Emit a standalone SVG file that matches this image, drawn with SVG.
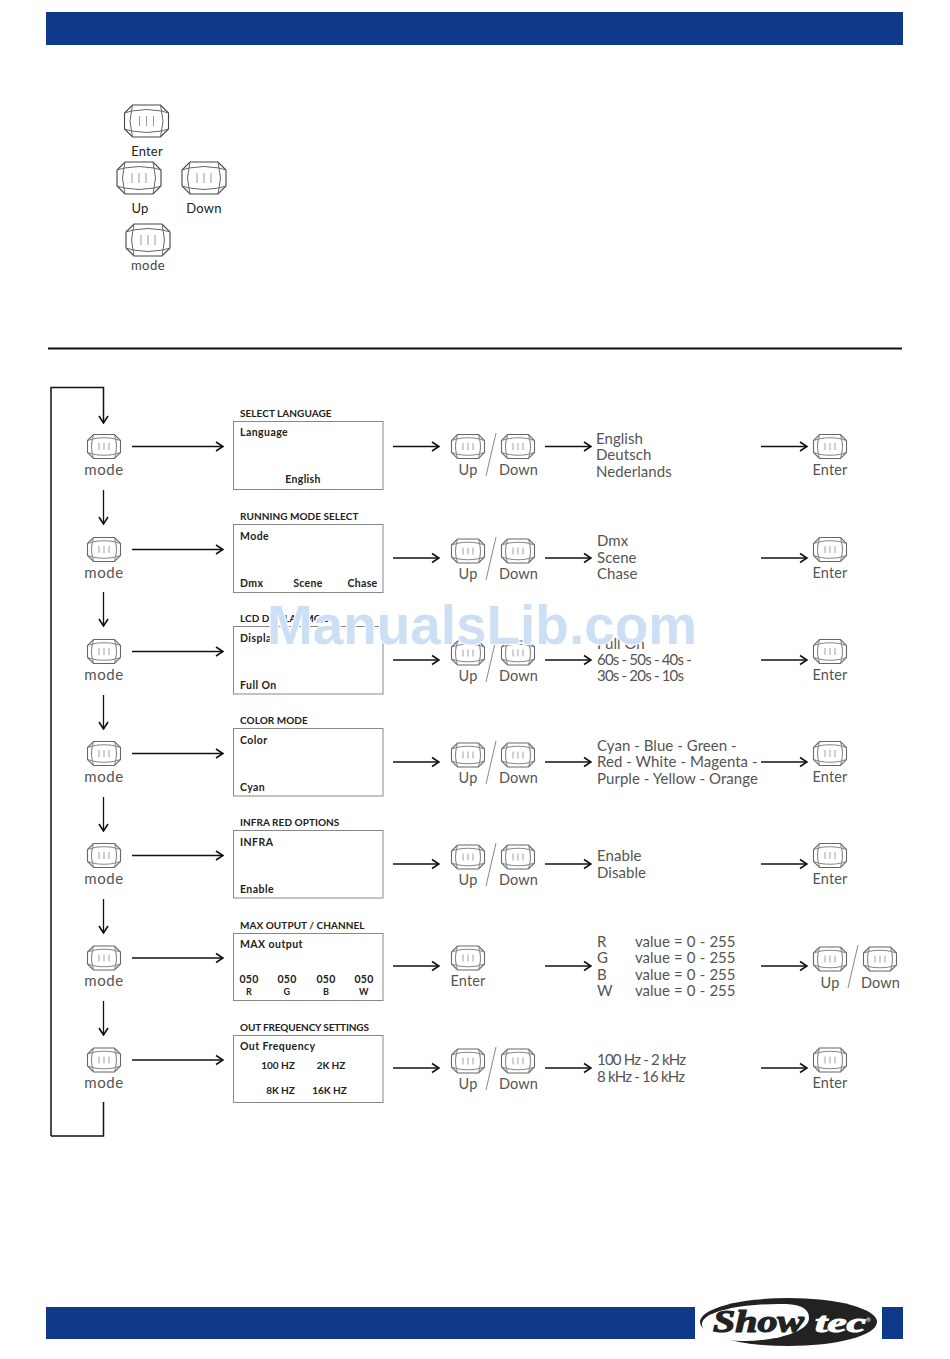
<svg xmlns="http://www.w3.org/2000/svg" width="950" height="1359" viewBox="0 0 950 1359">
<style>
text{font-family:"Lato","Liberation Sans",sans-serif;fill:#2b2b2b}
.l{font-size:14.5px;letter-spacing:.15px;text-anchor:middle;fill:#555}
.m{font-size:15px;letter-spacing:.55px;text-anchor:middle;fill:#555}
.v{font-size:15px;letter-spacing:.05px;fill:#555}
.n{letter-spacing:-.8px}
.o{letter-spacing:0;word-spacing:.3px}
.b{font-size:13px;text-anchor:middle;fill:#222;letter-spacing:.2px}
.t{font-size:10px;font-weight:700;fill:#222;letter-spacing:.05px}
.p{font-size:10.5px;font-weight:700;fill:#222;letter-spacing:.45px}
.pm{font-size:10.5px;font-weight:700;fill:#222;letter-spacing:.3px;text-anchor:middle}
.hz{font-size:10px;letter-spacing:-.05px}
.box{fill:#fff;stroke:#888;stroke-width:1}
.a{fill:none;stroke:#111;stroke-width:1.3;marker-end:url(#ah)}
.s{fill:none;stroke:#888;stroke-width:1}
.bar{fill:#0f3a8c}
.wm{font-family:"Liberation Sans",sans-serif;font-size:55px;font-weight:700;fill:#cddff5;stroke:#fff;stroke-width:2;paint-order:stroke}
</style>
<defs>
<marker id="ah" viewBox="0 0 10 12" markerWidth="10" markerHeight="12" refX="9" refY="6" orient="auto" markerUnits="userSpaceOnUse"><path d="M2 1.500L9 6L2 10.500" fill="none" stroke="#111" stroke-width="1.6"/></marker>
<g id="btn" fill="none" stroke="#666" stroke-width="1">
<path d="M-14 -16H14L22 -8V8L14 16H-14L-22 8V-8Z" stroke="#444" stroke-width="1.1"/>
<path d="M-15 -10Q0 -13 15 -10Q18 0 15 10Q0 13 -15 10Q-18 0 -15 -10Z"/>
<path d="M-14 -16L-15 -10M14 -16L15 -10M-14 16L-15 10M14 16L15 10M-22 -8L-15 -10M22 -8L15 -10M-22 8L-15 10M22 8L15 10"/>
<path d="M-7 -5V5M0 -5V5M7 -5V5" stroke="#999"/>
</g>
<g id="sbt" fill="none" stroke="#888" stroke-width="1.1">
<path d="M-10.500 -12H10.500L16.500 -6V6L10.500 12H-10.500L-16.500 6V-6Z" stroke="#666"/>
<path d="M-11.500 -7.500Q0 -10 11.500 -7.500Q13.500 0 11.500 7.500Q0 10 -11.500 7.500Q-13.500 0 -11.500 -7.500Z"/>
<path d="M-10.500 -12L-11.500 -7.500M10.500 -12L11.500 -7.500M-10.500 12L-11.500 7.500M10.500 12L11.500 7.500M-16.500 -6L-11.500 -7.500M16.500 -6L11.500 -7.500M-16.500 6L-11.500 7.500M16.500 6L11.500 7.500"/>
<path d="M-5 -3.500V3.500M0 -3.500V3.500M5 -3.500V3.500" stroke="#aaa"/>
</g>
</defs>
<g id="header"><rect class="bar" x="46" y="12" width="857" height="33"/></g>
<g id="legend">
<g id="k1"><use href="#btn" transform="translate(146.500 121)"/><text class="b" x="147" y="156">Enter</text></g>
<g id="k2"><use href="#btn" transform="translate(139 178)"/><text class="b" x="140" y="213">Up</text></g>
<g id="k3"><use href="#btn" transform="translate(204 178)"/><text class="b" x="204" y="213">Down</text></g>
<g id="k4"><use href="#btn" transform="translate(148 240)"/><text class="b" x="148" y="270" style="letter-spacing:.5px;fill:#444">mode</text></g>
</g>
<line x1="48" y1="348.500" x2="902" y2="348.500" stroke="#111" stroke-width="2"/>
<g id="connectors">
<path d="M51 1136V387.500H103.500V423" class="a" style="stroke-width:1.500"/>
<path d="M51 1136H103.500V1102" fill="none" stroke="#111" stroke-width="1.500"/>
<path class="a" d="M103.500 490V524"/><path class="a" d="M103.500 592V626"/><path class="a" d="M103.500 695V729"/><path class="a" d="M103.500 797V831"/><path class="a" d="M103.500 899V933"/><path class="a" d="M103.500 1001V1035"/>
<path class="a" d="M132 446.500H223"/><path class="a" d="M132 549.500H223"/><path class="a" d="M132 651.500H223"/><path class="a" d="M132 753.500H223"/><path class="a" d="M132 855.500H223"/><path class="a" d="M132 958H223"/><path class="a" d="M132 1060H223"/>
<path class="a" d="M393 446.500H439"/><path class="a" d="M393 558H439"/><path class="a" d="M393 660H439"/><path class="a" d="M393 762H439"/><path class="a" d="M393 864H439"/><path class="a" d="M393 966H439"/><path class="a" d="M393 1068H439"/>
<path class="a" d="M545 446.500H591"/><path class="a" d="M545 558H591"/><path class="a" d="M545 660H591"/><path class="a" d="M545 762H591"/><path class="a" d="M545 864H591"/><path class="a" d="M545 966H591"/><path class="a" d="M545 1068H591"/>
<path class="a" d="M761 446.500H807"/><path class="a" d="M761 558H807"/><path class="a" d="M761 660H807"/><path class="a" d="M761 762H807"/><path class="a" d="M761 864H807"/><path class="a" d="M761 966H807"/><path class="a" d="M761 1068H807"/>
</g>
<g id="modes">
<g id="mode1"><use href="#sbt" transform="translate(104 446.500)"/><text class="m" x="104" y="475">mode</text></g>
<g id="mode2"><use href="#sbt" transform="translate(104 549.500)"/><text class="m" x="104" y="578">mode</text></g>
<g id="mode3"><use href="#sbt" transform="translate(104 651.500)"/><text class="m" x="104" y="680">mode</text></g>
<g id="mode4"><use href="#sbt" transform="translate(104 753.500)"/><text class="m" x="104" y="782">mode</text></g>
<g id="mode5"><use href="#sbt" transform="translate(104 855.500)"/><text class="m" x="104" y="884">mode</text></g>
<g id="mode6"><use href="#sbt" transform="translate(104 958)"/><text class="m" x="104" y="986">mode</text></g>
<g id="mode7"><use href="#sbt" transform="translate(104 1060)"/><text class="m" x="104" y="1088">mode</text></g>
</g>
<g id="panels">
<g id="p1"><text class="t" x="240" y="417">SELECT LANGUAGE</text><rect class="box" x="233.500" y="421.500" width="149.500" height="68"/><text class="p" x="240" y="436">Language</text><text class="pm" x="303" y="483">English</text></g>
<g id="p2"><text class="t" x="240" y="520">RUNNING MODE SELECT</text><rect class="box" x="233.500" y="524.500" width="149.500" height="68"/><text class="p" x="240" y="540">Mode</text><text class="p" x="240" y="587">Dmx</text><text class="pm" x="308" y="587">Scene</text><text class="pm" x="362.500" y="587">Chase</text></g>
<g id="p3"><text class="t" x="240" y="622">LCD DISPLAY MODE</text><rect class="box" x="233.500" y="626.500" width="149.500" height="67.500"/><text class="p" x="240" y="642">Display</text><text class="p" x="240" y="689">Full On</text></g>
<g id="p4"><text class="t" x="240" y="724">COLOR MODE</text><rect class="box" x="233.500" y="728.500" width="149.500" height="67.500"/><text class="p" x="240" y="744">Color</text><text class="p" x="240" y="791">Cyan</text></g>
<g id="p5"><text class="t" x="240" y="826">INFRA RED OPTIONS</text><rect class="box" x="233.500" y="830.500" width="149.500" height="67.500"/><text class="p" x="240" y="846">INFRA</text><text class="p" x="240" y="893">Enable</text></g>
<g id="p6"><text class="t" x="240" y="929">MAX OUTPUT / CHANNEL</text><rect class="box" x="233.500" y="933.500" width="149.500" height="67"/><text class="p" x="240" y="948">MAX output</text><text class="pm" x="249" y="983">050</text><text class="pm" x="287" y="983">050</text><text class="pm" x="326" y="983">050</text><text class="pm" x="364" y="983">050</text><text class="pm" x="249" y="995" style="font-size:9px">R</text><text class="pm" x="287" y="995" style="font-size:9px">G</text><text class="pm" x="326" y="995" style="font-size:9px">B</text><text class="pm" x="364" y="995" style="font-size:9px">W</text></g>
<g id="p7"><text class="t" x="240" y="1031" style="letter-spacing:-.15px">OUT FREQUENCY SETTINGS</text><rect class="box" x="233.500" y="1035.500" width="149.500" height="67"/><text class="p" x="240" y="1050">Out Frequency</text><text class="pm hz" x="278" y="1069">100 HZ</text><text class="pm hz" x="331" y="1069">2K HZ</text><text class="pm hz" x="280.500" y="1094">8K HZ</text><text class="pm hz" x="329.500" y="1094">16K HZ</text></g>
</g>
<g id="updown">
<g id="ud1"><use href="#sbt" transform="translate(468 446.500)"/><use href="#sbt" transform="translate(518 446.500)"/><path class="s" d="M496 433L486 476"/><text class="l" x="468" y="475">Up</text><text class="l" x="518.500" y="475">Down</text></g>
<g id="ud2"><use href="#sbt" transform="translate(468 551)"/><use href="#sbt" transform="translate(518 551)"/><path class="s" d="M496 537L486 580"/><text class="l" x="468" y="579">Up</text><text class="l" x="518.500" y="579">Down</text></g>
<g id="ud3"><use href="#sbt" transform="translate(468 653)"/><use href="#sbt" transform="translate(518 653)"/><path class="s" d="M496 639L486 682"/><text class="l" x="468" y="681">Up</text><text class="l" x="518.500" y="681">Down</text></g>
<g id="ud4"><use href="#sbt" transform="translate(468 755)"/><use href="#sbt" transform="translate(518 755)"/><path class="s" d="M496 741L486 784"/><text class="l" x="468" y="783">Up</text><text class="l" x="518.500" y="783">Down</text></g>
<g id="ud5"><use href="#sbt" transform="translate(468 857)"/><use href="#sbt" transform="translate(518 857)"/><path class="s" d="M496 843L486 886"/><text class="l" x="468" y="885">Up</text><text class="l" x="518.500" y="885">Down</text></g>
<g id="en6"><use href="#sbt" transform="translate(468 958)"/><text class="l" x="468" y="986">Enter</text></g>
<g id="ud7"><use href="#sbt" transform="translate(468 1061)"/><use href="#sbt" transform="translate(518 1061)"/><path class="s" d="M496 1047L486 1090"/><text class="l" x="468" y="1089">Up</text><text class="l" x="518.500" y="1089">Down</text></g>
</g>
<g id="values">
<text class="v"><tspan x="596" y="444">English</tspan><tspan x="596" y="460">Deutsch</tspan><tspan x="596" y="477">Nederlands</tspan></text>
<text class="v"><tspan x="597" y="546">Dmx</tspan><tspan x="597" y="563">Scene</tspan><tspan x="597" y="579">Chase</tspan></text>
<text class="v"><tspan x="597" y="649">Full On</tspan><tspan class="n" x="597" y="665">60s - 50s - 40s -</tspan><tspan class="n" x="597" y="681">30s - 20s - 10s</tspan></text>
<text class="v"><tspan x="597" y="751">Cyan - Blue - Green -</tspan><tspan x="597" y="767">Red - White - Magenta -</tspan><tspan x="597" y="784">Purple - Yellow - Orange</tspan></text>
<text class="v"><tspan x="597" y="861">Enable</tspan><tspan x="597" y="878">Disable</tspan></text>
<text class="v"><tspan x="597" y="947">R</tspan><tspan class="o" x="635" y="947">value =  0 - 255</tspan><tspan x="597" y="963">G</tspan><tspan class="o" x="635" y="963">value =  0 - 255</tspan><tspan x="597" y="980">B</tspan><tspan class="o" x="635" y="980">value =  0 - 255</tspan><tspan x="597" y="996">W</tspan><tspan class="o" x="635" y="996">value =  0 - 255</tspan></text>
<text class="v"><tspan class="n" x="597" y="1065">100 Hz - 2 kHz</tspan><tspan class="n" x="597" y="1082">8 kHz - 16 kHz</tspan></text>
</g>
<g id="ends">
<g id="e1"><use href="#sbt" transform="translate(830 446.500)"/><text class="l" x="830" y="475">Enter</text></g>
<g id="e2"><use href="#sbt" transform="translate(830 549.500)"/><text class="l" x="830" y="578">Enter</text></g>
<g id="e3"><use href="#sbt" transform="translate(830 651.500)"/><text class="l" x="830" y="680">Enter</text></g>
<g id="e4"><use href="#sbt" transform="translate(830 753.500)"/><text class="l" x="830" y="782">Enter</text></g>
<g id="e5"><use href="#sbt" transform="translate(830 855.500)"/><text class="l" x="830" y="884">Enter</text></g>
<g id="e6"><use href="#sbt" transform="translate(830 959)"/><use href="#sbt" transform="translate(880 959)"/><path class="s" d="M858 945L848 988"/><text class="l" x="830" y="988">Up</text><text class="l" x="880.500" y="988">Down</text></g>
<g id="e7"><use href="#sbt" transform="translate(830 1060)"/><text class="l" x="830" y="1088">Enter</text></g>
</g>
<text class="wm" x="267" y="644" textLength="430" lengthAdjust="spacingAndGlyphs">ManualsLib.com</text>
<g id="footer"><rect class="bar" x="46" y="1307" width="649" height="32"/><rect class="bar" x="882" y="1307" width="21" height="32"/>
<g id="logo"><ellipse cx="788.500" cy="1322" rx="88.500" ry="24" fill="#222"/>
<path d="M702 1323C704 1311 745 1303 786 1304C802 1305 809 1309 809 1318C809 1333 770 1342 740 1341C716 1340 701 1333 702 1323Z" fill="#fff"/>
<text x="713" y="1332" style="font-family:'Liberation Serif',serif;font-size:31px;font-weight:700;font-style:italic;fill:#222;stroke:#222;stroke-width:1.200" textLength="91" lengthAdjust="spacingAndGlyphs">Show</text>
<text x="815" y="1332" style="font-family:'Liberation Serif',serif;font-size:28px;font-weight:700;font-style:italic;fill:#fff;stroke:#fff;stroke-width:1" textLength="51" lengthAdjust="spacingAndGlyphs">tec</text>
<text x="866" y="1322" style="font-size:6px;fill:#fff">®</text></g></g>
</svg>
